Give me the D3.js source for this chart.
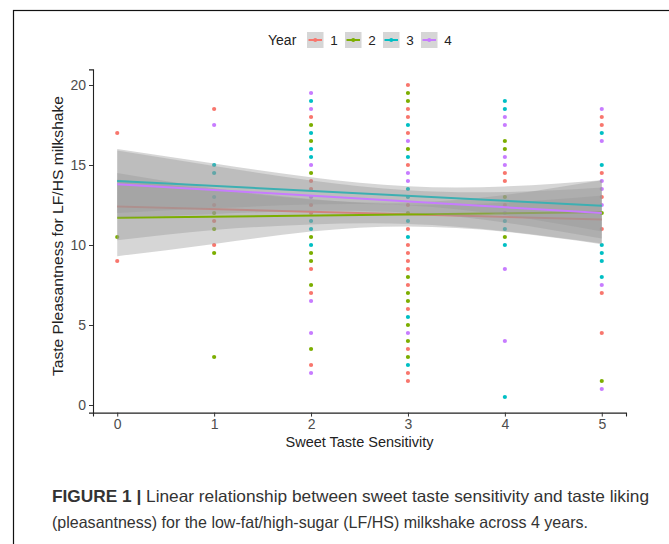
<!DOCTYPE html>
<html><head><meta charset="utf-8">
<script src="https://cdn.jsdelivr.net/npm/d3@7"></script>
<style>
html,body{margin:0;padding:0;background:#fff;}
svg{display:block;}
</style></head>
<body>
<svg id="chart" width="669" height="544"></svg>
<script>
// ---- data ----
const years = ["1", "2", "3", "4"];
const colors = ["#F8766D", "#7CAE00", "#00BFC4", "#C77CFF"];
const xTicks = [0, 1, 2, 3, 4, 5];
const yTicks = [0, 5, 10, 15, 20];
// [sweet taste sensitivity, taste pleasantness]
const year1 = [[0,17],[0,9],[1,18.5],[1,12.5],[1,11.5],[1,10],[2,18],[2,14],[2,13.5],[2,12.5],[2,12],[2,8.5],[2,7],[2,2.5],
  [3,20],[3,18.5],[3,18],[3,17],[3,15],[3,12.5],[3,11],[3,10],[3,9.5],[3,9],[3,8.5],[3,7.5],[3,6],[3,3.5],[3,2],[3,1.5],
  [4,14.5],[4,14],[4,12.5],[5,18],[5,17.5],[5,14.5],[5,13],[5,11],[5,7],[5,4.5]];
const year2 = [[0,10.5],[1,12],[1,11],[1,9.5],[1,3],[2,17.5],[2,16.5],[2,14.5],[2,10.5],[2,9.5],[2,9],[2,7.5],[2,3.5],
  [3,19.5],[3,19],[3,16],[3,12],[3,8],[3,7],[3,6.5],[3,5],[3,4],[3,3],[4,16.5],[4,16],[4,13],[4,10.5],[5,12],[5,1.5]];
const year3 = [[1,15],[1,14.5],[1,13],[2,19],[2,17],[2,16],[2,15.5],[2,11.5],[2,11],[2,10],
  [3,17.5],[3,15.5],[3,13.5],[3,13],[3,11.5],[3,10.5],[3,5.5],[3,2.5],[4,19],[4,18.5],[4,11.5],[4,11],[4,10],[4,0.5],
  [5,17],[5,15],[5,10],[5,9.5],[5,9],[5,8]];
const year4 = [[1,17.5],[2,19.5],[2,18.5],[2,15],[2,13],[2,6.5],[2,4.5],[2,2],[3,16.5],[3,14.5],[3,14],[3,4.5],
  [4,18],[4,17.5],[4,15.5],[4,15],[4,12],[4,8.5],[4,4],[5,18.5],[5,16.5],[5,14],[5,13.5],[5,12.5],[5,7.5],[5,1]];
const points = [year1, year2, year3, year4];
// fitted linear trend (value at sensitivity 0 and 5) per year
const fitAt0 = [12.4, 11.7, 14.0, 13.8];
const fitAt5 = [11.6, 12.05, 12.45, 12.0];
// confidence band half-width at sensitivity 0..5 per year
const band1 = [2.1, 1.3, 0.8, 0.6, 0.9, 1.5];
const band2 = [2.4, 1.7, 1.0, 0.75, 1.15, 2.0];
const band3 = [2.0, 1.4, 0.85, 0.6, 0.9, 1.6];
const band4 = [2.1, 1.5, 0.95, 0.7, 0.95, 1.6];
const bands = [band1, band2, band3, band4];

// ---- layout ----
const svg = d3.select("#chart");
const x = d3.scaleLinear().domain([-0.25, 5.25]).range([93, 626]);
const y = d3.scaleLinear().domain([-0.475, 20.975]).range([412.6, 69.4]);
const textCol = "#4d4d4d";
const font = "'Liberation Sans', Arial, sans-serif";

// figure frame
svg.append("rect").attr("x", 13.5).attr("y", 10.5).attr("width", 700).attr("height", 600)
  .attr("fill", "none").attr("stroke", "#111").attr("stroke-width", 1.2);

// points
const pg = svg.append("g");
points.forEach((pts, i) => {
  pg.selectAll(null).data(pts).enter().append("circle")
    .attr("cx", d => x(d[0])).attr("cy", d => y(d[1])).attr("r", 2.1)
    .attr("fill", colors[i]);
});

// smooths: ribbon + line per year
const lg = svg.append("g");
points.forEach((pts, i) => {
  const fit = s => fitAt0[i] + (fitAt5[i] - fitAt0[i]) * s / 5;
  const area = d3.area().curve(d3.curveNatural)
    .x(d => x(d.s)).y0(d => y(fit(d.s) - d.h)).y1(d => y(fit(d.s) + d.h));
  lg.append("path").datum(xTicks.map((s, k) => ({s, h: bands[i][k]})))
    .attr("d", area).attr("fill", "#999999").attr("fill-opacity", 0.4);
  lg.append("line").attr("x1", x(0)).attr("x2", x(5))
    .attr("y1", y(fitAt0[i])).attr("y2", y(fitAt5[i]))
    .attr("stroke", colors[i]).attr("stroke-width", 2);
});

// axes
const xAxis = svg.append("g").attr("transform", "translate(0,412.6)")
  .call(d3.axisBottom(x).tickValues(xTicks).tickSize(4).tickPadding(2).tickFormat(d3.format("d")));
const yAxis = svg.append("g").attr("transform", "translate(93,0)")
  .call(d3.axisLeft(y).tickValues(yTicks).tickSize(4).tickPadding(3).tickFormat(d3.format("d")));
[xAxis, yAxis].forEach(g => {
  g.select(".domain").attr("stroke", "#222").attr("stroke-width", 1.1);
  g.selectAll(".tick line").attr("stroke", "#333");
  g.selectAll(".tick text").attr("fill", textCol).style("font-family", font).style("font-size", "14px");
});

svg.append("text").attr("x", 359.5).attr("y", 447).attr("text-anchor", "middle")
  .style("font-family", font).style("font-size", "14.5px").attr("fill", "#222")
  .text("Sweet Taste Sensitivity");
svg.append("text").attr("transform", "translate(63,236) rotate(-90)").attr("text-anchor", "middle")
  .style("font-family", font).style("font-size", "15px").attr("fill", "#222")
  .attr("textLength", 280).attr("lengthAdjust", "spacingAndGlyphs")
  .text("Taste Pleasantness for LF/HS milkshake");

// legend
const leg = svg.append("g");
leg.append("text").attr("x", 268).attr("y", 44.5).style("font-family", font).style("font-size", "14px")
  .attr("fill", "#222").text("Year");
const keyX = [307, 345, 383, 421];
years.forEach((yr, i) => {
  leg.append("rect").attr("x", keyX[i]).attr("y", 32).attr("width", 16.5).attr("height", 16)
    .attr("fill", "#D6D6D6");
  leg.append("line").attr("x1", keyX[i] + 1.5).attr("x2", keyX[i] + 15).attr("y1", 40).attr("y2", 40)
    .attr("stroke", colors[i]).attr("stroke-width", 2);
  leg.append("circle").attr("cx", keyX[i] + 8.25).attr("cy", 40).attr("r", 2).attr("fill", colors[i]);
  leg.append("text").attr("x", keyX[i] + 27).attr("y", 44.5).attr("text-anchor", "middle")
    .style("font-family", font).style("font-size", "13.5px").attr("fill", "#222").text(yr);
});

// caption
const cap = svg.append("g").style("font-family", font).attr("fill", "#333");
const t1 = cap.append("text").attr("x", 52).attr("y", 502).style("font-size", "16.5px")
  .attr("textLength", 597).attr("lengthAdjust", "spacingAndGlyphs");
t1.append("tspan").style("font-weight", "bold").text("FIGURE 1 | ");
t1.append("tspan").text("Linear relationship between sweet taste sensitivity and taste liking");
cap.append("text").attr("x", 52).attr("y", 528).style("font-size", "16.5px")
  .attr("textLength", 536).attr("lengthAdjust", "spacingAndGlyphs")
  .text("(pleasantness) for the low-fat/high-sugar (LF/HS) milkshake across 4 years.");
</script>
</body></html>
